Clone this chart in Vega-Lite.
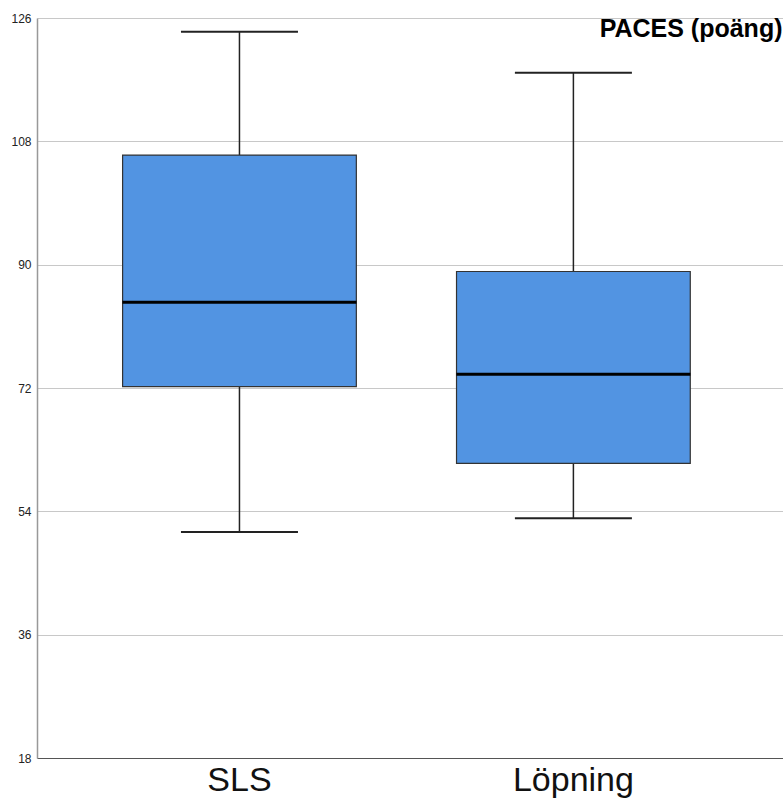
{
  "$schema": "https://vega.github.io/schema/vega-lite/v6.json",
  "width": 746,
  "height": 740,
  "autosize": {"type": "none"},
  "padding": {"left": 37, "top": 18, "right": 0, "bottom": 41},
  "background": "white",
  "config": {
    "view": {"stroke": null},
    "font": "Liberation Sans"
  },
  "data": {
    "values": [
      {"grupp": "SLS", "min": 51, "q1": 72.2, "median": 84.5, "q3": 106, "max": 124},
      {"grupp": "Löpning", "min": 53, "q1": 61, "median": 74, "q3": 89, "max": 118}
    ]
  },
  "encoding": {
    "x": {
      "field": "grupp",
      "type": "nominal",
      "sort": ["SLS", "Löpning"],
      "scale": {"paddingInner": 0.3, "paddingOuter": 0.267, "align": 0.48},
      "axis": {
        "title": null,
        "labelAngle": 0,
        "labelFontSize": 34,
        "labelColor": "#111",
        "labelPadding": 5,
        "ticks": false,
        "domainColor": "#555",
        "domainWidth": 1.2,
        "grid": false
      }
    }
  },
  "layer": [
    {
      "mark": {"type": "rule", "color": "#222", "strokeWidth": 1.5},
      "encoding": {
        "y": {
          "field": "min",
          "type": "quantitative",
          "scale": {"domain": [18, 126], "nice": false, "zero": false},
          "axis": {
            "values": [18, 36, 54, 72, 90, 108, 126],
            "title": "PACES (poäng)",
            "titleAngle": 0,
            "titleX": 745,
            "titleY": 10,
            "titleAlign": "right",
            "titleBaseline": "middle",
            "titleFontSize": 25,
            "titleFontWeight": "bold",
            "titleColor": "#000",
            "labelFontSize": 12,
            "labelColor": "#222",
            "labelPadding": 6,
            "ticks": false,
            "domainColor": "#999",
            "domainWidth": 1.5,
            "grid": true,
            "gridColor": "#c8c8c8",
            "gridWidth": 1.2
          }
        },
        "y2": {"field": "max"}
      }
    },
    {
      "mark": {"type": "bar", "color": "#5294e2", "stroke": "#333", "strokeWidth": 1.2},
      "encoding": {
        "y": {"field": "q1", "type": "quantitative"},
        "y2": {"field": "q3"}
      }
    },
    {
      "mark": {"type": "tick", "color": "#000", "thickness": 3, "size": 234, "opacity": 1},
      "encoding": {
        "y": {"field": "median", "type": "quantitative"}
      }
    },
    {
      "mark": {"type": "tick", "color": "#222", "thickness": 2, "size": 117, "opacity": 1},
      "encoding": {
        "y": {"field": "max", "type": "quantitative"}
      }
    },
    {
      "mark": {"type": "tick", "color": "#222", "thickness": 2, "size": 117, "opacity": 1},
      "encoding": {
        "y": {"field": "min", "type": "quantitative"}
      }
    }
  ]
}
